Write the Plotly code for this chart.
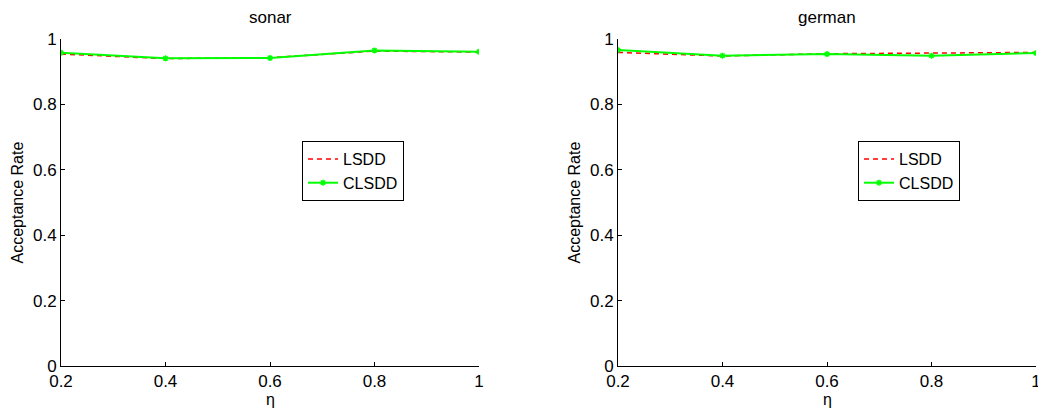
import plotly.graph_objects as go

# eta values shared by both panels
eta = [0.2, 0.4, 0.6, 0.8, 1.0]

# sonar dataset
sonar_lsdd = [0.954, 0.940, 0.943, 0.963, 0.960]
sonar_clsdd = [0.958, 0.941, 0.942, 0.965, 0.961]

# german dataset
german_lsdd = [0.959, 0.948, 0.955, 0.956, 0.959]
german_clsdd = [0.966, 0.949, 0.954, 0.949, 0.957]

panel_titles = ["sonar", "german"]
x_label = "η"
y_label = "Acceptance Rate"
x_ticks = [0.2, 0.4, 0.6, 0.8, 1.0]
x_tick_text = ["0.2", "0.4", "0.6", "0.8", "1"]
y_ticks = [0, 0.2, 0.4, 0.6, 0.8, 1.0]
y_tick_text = ["0", "0.2", "0.4", "0.6", "0.8", "1"]

FONT = "Liberation Sans, Arial, Helvetica, sans-serif"
W, H = 1038, 409
TICK_SIZE = 17
LABEL_SIZE = 16
TITLE_SIZE = 17

fig = go.Figure()

panels = [
    (sonar_lsdd, sonar_clsdd, "x", "y", "legend"),
    (german_lsdd, german_clsdd, "x2", "y2", "legend2"),
]

for lsdd, clsdd, xa, ya, lg in panels:
    fig.add_trace(go.Scatter(
        x=eta, y=lsdd, name="LSDD", mode="lines",
        line=dict(color="#ff0000", width=1.5, dash="5px,4px"),
        xaxis=xa, yaxis=ya, legend=lg,
    ))
    fig.add_trace(go.Scatter(
        x=eta, y=clsdd, name="CLSDD", mode="lines+markers",
        line=dict(color="#00ff00", width=2),
        marker=dict(symbol="asterisk-open", size=5,
                    line=dict(color="#00ff00", width=1.5)),
        xaxis=xa, yaxis=ya, legend=lg,
    ))

# axis domains in pixel terms
left_dom = [61 / W, 479 / W]
right_dom = [618 / W, 1036 / W]
y_dom = [(H - 366) / H, (H - 39) / H]

axis_common = dict(
    showline=True, linecolor="black", linewidth=1,
    ticks="inside", ticklen=4, tickcolor="black",
    showgrid=False, zeroline=False, automargin=False,
    ticklabeloverflow="allow",
    tickfont=dict(family=FONT, size=TICK_SIZE, color="black"),
)

xaxis_common = dict(axis_common, range=[0.2, 1.0], tickvals=x_ticks,
                    ticktext=x_tick_text)
yaxis_common = dict(axis_common, range=[0, 1.0], tickvals=y_ticks,
                    ticktext=y_tick_text)

legend_common = dict(
    bgcolor="white", bordercolor="black", borderwidth=1,
    font=dict(family=FONT, size=LABEL_SIZE, color="black"),
    xanchor="left", yanchor="top", y=(H - 141) / H,
    tracegroupgap=0, itemwidth=30,
)

fig.update_layout(
    width=W, height=H,
    margin=dict(l=0, r=0, t=0, b=0),
    paper_bgcolor="white", plot_bgcolor="white",
    xaxis=dict(xaxis_common, domain=left_dom, anchor="y"),
    yaxis=dict(yaxis_common, domain=y_dom, anchor="x"),
    xaxis2=dict(xaxis_common, domain=right_dom, anchor="y2"),
    yaxis2=dict(yaxis_common, domain=y_dom, anchor="x2"),
    legend=dict(legend_common, x=302 / W),
    legend2=dict(legend_common, x=858 / W),
    font=dict(family=FONT, size=LABEL_SIZE, color="black"),
)

for title, dom in zip(panel_titles, [left_dom, right_dom]):
    mid = (dom[0] + dom[1]) / 2
    # panel title
    fig.add_annotation(
        text=title, xref="paper", yref="paper",
        x=mid, y=(H - 18) / H,
        xanchor="center", yanchor="middle", showarrow=False,
        font=dict(family=FONT, size=TITLE_SIZE, color="black"),
    )
    # x-axis title
    fig.add_annotation(
        text=x_label, xref="paper", yref="paper",
        x=mid, y=(H - 399) / H,
        xanchor="center", yanchor="middle", showarrow=False,
        font=dict(family=FONT, size=LABEL_SIZE, color="black"),
    )
    # y-axis title
    fig.add_annotation(
        text=y_label, xref="paper", yref="paper",
        x=(dom[0] * W - 44) / W, y=(y_dom[0] + y_dom[1]) / 2,
        xanchor="center", yanchor="middle", showarrow=False, textangle=-90,
        font=dict(family=FONT, size=LABEL_SIZE, color="black"),
    )

fig.write_html("out.html")
